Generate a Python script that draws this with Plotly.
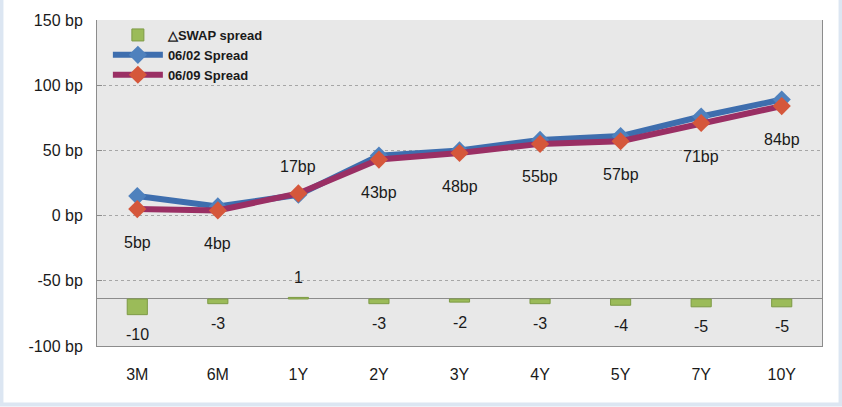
import plotly.graph_objects as go

categories = ["3M", "6M", "1Y", "2Y", "3Y", "4Y", "5Y", "7Y", "10Y"]
spread_0602 = [15, 7, 16, 46, 50, 58, 61, 76, 89]
spread_0609 = [5, 4, 17, 43, 48, 55, 57, 71, 84]
swap_change = [-10, -3, 1, -3, -2, -3, -4, -5, -5]
label_0609 = ["5bp", "4bp", "17bp", "43bp", "48bp", "55bp", "57bp", "71bp", "84bp"]
label_above = [False, False, True, False, False, False, False, False, False]
y_tick_vals = [-100, -50, 0, 50, 100, 150]
y_tick_text = ["-100 bp", "-50 bp", "0 bp", "50 bp", "100 bp", "150 bp"]

FONT = "Liberation Sans"

fig = go.Figure()
fig.add_trace(go.Bar(
    x=categories, y=swap_change, yaxis="y2", name="△SWAP spread",
    marker=dict(color="#9bbb59", line=dict(color="#7d9a45", width=1)),
    width=0.25,
))
fig.add_trace(go.Scatter(
    x=categories, y=spread_0602, name="06/02 Spread", mode="lines+markers",
    line=dict(color="#3e6eae", width=6),
    marker=dict(symbol="diamond", size=14, color="#4f81bd"),
))
fig.add_trace(go.Scatter(
    x=categories, y=spread_0609, name="06/09 Spread", mode="lines+markers",
    line=dict(color="#9a2f64", width=6),
    marker=dict(symbol="diamond", size=14, color="#d5573b"),
))

annotations = []
for c, v, t, up in zip(categories, spread_0609, label_0609, label_above):
    annotations.append(dict(x=c, y=v, xref="x", yref="y", text=t, showarrow=False,
                            yshift=27 if up else -33,
                            font=dict(family=FONT, size=16, color="#1a1a1a")))
for c, v in zip(categories, swap_change):
    annotations.append(dict(x=c, y=v, xref="x", yref="y2", text=str(v), showarrow=False,
                            yshift=20 if v > 0 else -20,
                            font=dict(family=FONT, size=16, color="#1a1a1a")))

fig.update_layout(
    width=842, height=407,
    margin=dict(l=97, r=20, t=13, b=61),
    paper_bgcolor="white",
    plot_bgcolor="#e8e8e8",
    font=dict(family=FONT, size=15, color="#1a1a1a"),
    showlegend=True,
    legend=dict(x=0.015, y=1.0, xanchor="left", yanchor="top",
                bgcolor="rgba(0,0,0,0)",
                font=dict(family=FONT, size=13, color="#1a1a1a", weight="bold"),
                tracegroupgap=0, itemwidth=50),
    xaxis=dict(categoryorder="array", categoryarray=categories, range=[-0.5, 8.5],
               showline=True, linecolor="#8c8c8c", linewidth=1, showgrid=False,
               ticks="", ticklabelstandoff=14,
               tickfont=dict(family=FONT, size=16, color="#1a1a1a")),
    yaxis=dict(range=[-100, 150], tickvals=y_tick_vals, ticktext=y_tick_text,
               showline=True, linecolor="#8c8c8c", linewidth=1, mirror=True,
               showgrid=True, gridcolor="#a6a6a6", griddash="dot", gridwidth=1,
               zeroline=False, ticks="inside", ticklen=5, tickcolor="#8c8c8c",
               ticklabelstandoff=10,
               tickfont=dict(family=FONT, size=16, color="#1a1a1a")),
    yaxis2=dict(overlaying="y", side="right", range=[-30, 178], visible=True,
                showticklabels=False, showgrid=False, showline=False, ticks="",
                zeroline=True, zerolinecolor="#8c8c8c", zerolinewidth=1),
    annotations=annotations,
    bargap=0.7,
)

fig.add_shape(type="rect", xref="paper", yref="paper",
              x0=-97/725 + 0.002, x1=(842 - 97)/725 - 0.002,
              y0=-61/333 + 0.004, y1=(407 - 13)/333 - 0.004,
              line=dict(color="#dce6f2", width=4), layer="below")

fig.write_html("out.html", config={"displayModeBar": False},
               post_script="document.body.style.margin='0px';")
